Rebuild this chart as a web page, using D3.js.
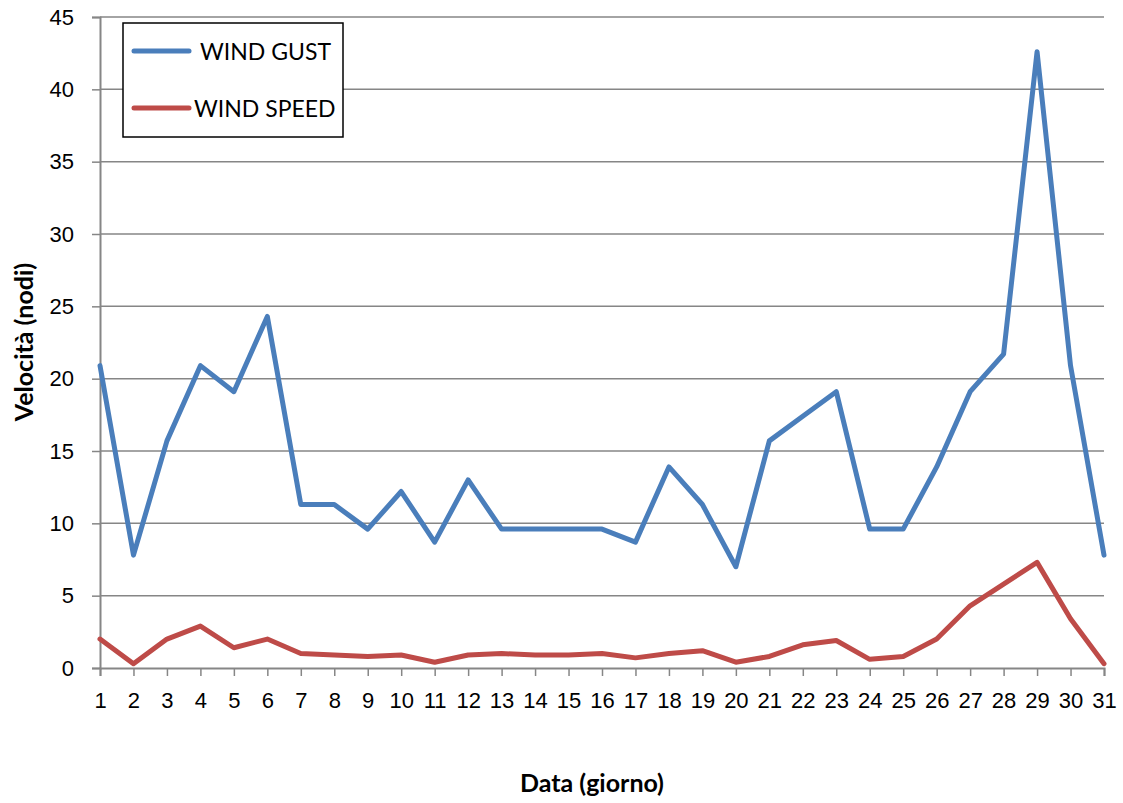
<!DOCTYPE html>
<html>
<head>
<meta charset="utf-8">
<script src="https://cdn.jsdelivr.net/npm/d3@7"></script>
<style>
  body { margin: 0; background: #fff; }
  svg { display: block; font-family: Lato, "Open Sans", sans-serif; }
  .tick text { font-size: 22px; fill: #000; }
</style>
</head>
<body>
<div id="chart"></div>
<script>
// days of the month
const days = d3.range(1, 32);
// series values (nodi)
const windGust = [20.9, 7.8, 15.7, 20.9, 19.1, 24.3, 11.3, 11.3, 9.6, 12.2, 8.7, 13.0, 9.6, 9.6, 9.6, 9.6,
  8.7, 13.9, 11.3, 7.0, 15.7, 17.4, 19.1, 9.6, 9.6, 13.9, 19.1, 21.7, 42.6, 20.9, 7.8];
const windSpeed = [2.0, 0.3, 2.0, 2.9, 1.4, 2.0, 1.0, 0.9, 0.8, 0.9, 0.4, 0.9, 1.0, 0.9, 0.9, 1.0,
  0.7, 1.0, 1.2, 0.4, 0.8, 1.6, 1.9, 0.6, 0.8, 2.0, 4.3, 5.8, 7.3, 3.4, 0.3];
const yTicks = [0, 5, 10, 15, 20, 25, 30, 35, 40, 45];
const seriesNames = ['WIND GUST', 'WIND SPEED'];
const colors = ['#4a7ebb', '#be4b48'];

const width = 1123, height = 803;
const margin = { top: 17, right: 19, bottom: 135, left: 100 };
const w = width - margin.left - margin.right;
const h = height - margin.top - margin.bottom;

const svg = d3.select('#chart').append('svg').attr('width', width).attr('height', height);
const g = svg.append('g').attr('transform', `translate(${margin.left},${margin.top})`);

const x = d3.scaleLinear().domain([1, 31]).range([0, w]);
const y = d3.scaleLinear().domain([0, 45]).range([h, 0]);

// gridlines
g.append('g')
  .selectAll('line')
  .data(yTicks.filter(d => d > 0))
  .join('line')
  .attr('x1', 0).attr('x2', w)
  .attr('y1', d => y(d)).attr('y2', d => y(d))
  .attr('stroke', '#868686').attr('stroke-width', 1.5);

// y axis
const yAxis = g.append('g')
  .call(d3.axisLeft(y).tickValues(yTicks).tickSize(8).tickPadding(18));
yAxis.select('.domain').attr('stroke', '#868686').attr('stroke-width', 2);
yAxis.selectAll('.tick line').attr('stroke', '#868686').attr('stroke-width', 1.5);

// x axis
const xAxis = g.append('g')
  .attr('transform', `translate(0,${h})`)
  .call(d3.axisBottom(x).tickValues(days).tickFormat(d3.format('d')).tickSize(8).tickPadding(16));
xAxis.select('.domain').attr('stroke', '#868686').attr('stroke-width', 2);
xAxis.selectAll('.tick line').attr('stroke', '#868686').attr('stroke-width', 1.5);

// lines
const line = d3.line().x((d, i) => x(days[i])).y(d => y(d));
[windGust, windSpeed].forEach((vals, i) => {
  g.append('path')
    .datum(vals)
    .attr('d', line)
    .attr('fill', 'none')
    .attr('stroke', colors[i])
    .attr('stroke-width', 5)
    .attr('stroke-linejoin', 'round')
    .attr('stroke-linecap', 'round');
});

// axis titles
svg.append('text')
  .attr('x', 592).attr('y', 792)
  .attr('text-anchor', 'middle')
  .attr('font-size', 25).attr('font-weight', 'bold')
  .text('Data (giorno)');
svg.append('text')
  .attr('transform', `translate(33,342) rotate(-90)`)
  .attr('text-anchor', 'middle')
  .attr('font-size', 25).attr('font-weight', 'bold')
  .text('Velocità  (nodi)');

// legend
const legend = svg.append('g').attr('transform', 'translate(123,23)');
legend.append('rect')
  .attr('width', 220).attr('height', 114)
  .attr('fill', '#fff').attr('stroke', '#000').attr('stroke-width', 1.5);
const items = legend.selectAll('g.item')
  .data(seriesNames)
  .join('g')
  .attr('class', 'item')
  .attr('transform', (d, i) => `translate(0,${28 + i * 57})`);
items.append('line')
  .attr('x1', 11).attr('x2', 66)
  .attr('stroke', (d, i) => colors[i]).attr('stroke-width', 5).attr('stroke-linecap', 'round');
items.append('text')
  .attr('x', (d, i) => i === 0 ? 77 : 71).attr('y', 1)
  .attr('dy', '0.35em')
  .attr('font-size', 23)
  .text(d => d);
</script>
</body>
</html>
